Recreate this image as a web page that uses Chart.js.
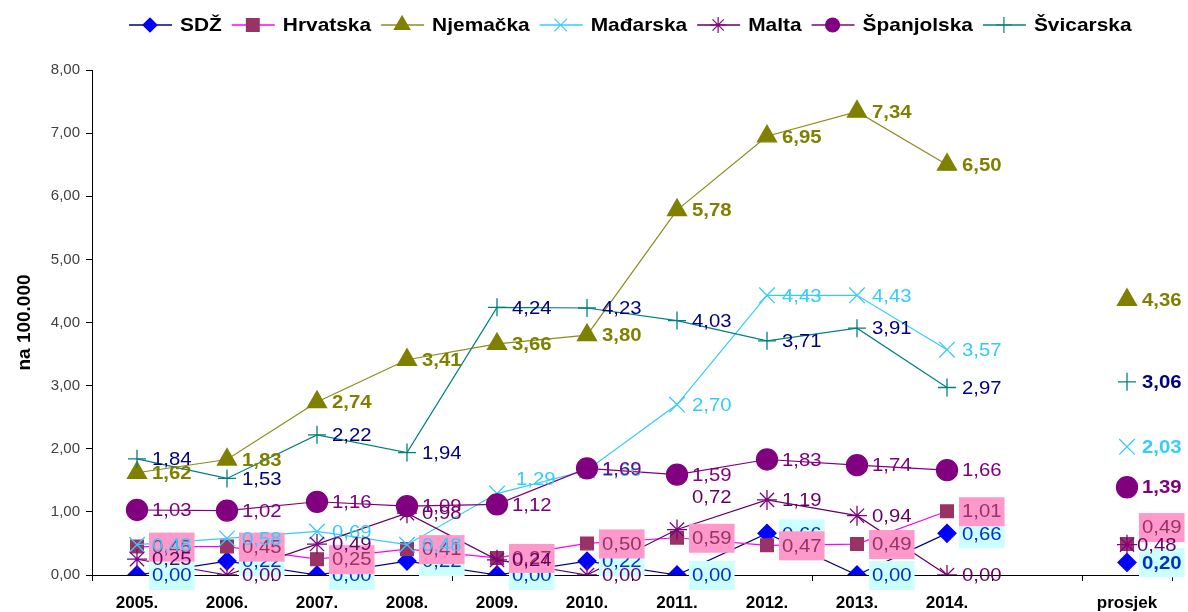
<!DOCTYPE html>
<html>
<head>
<meta charset="utf-8">
<script src="https://cdn.jsdelivr.net/npm/chart.js@4.4.1/dist/chart.umd.min.js"></script>
<style>
  html, body { margin: 0; padding: 0; background: #fff; }
  #wrap { width: 1188px; height: 612px; }
</style>
</head>
<body>
<div id="wrap"><canvas id="chart"></canvas></div>
<script>
// Categories: ten years, an empty slot, then the average
const years = ['2005.', '2006.', '2007.', '2008.', '2009.', '2010.', '2011.', '2012.', '2013.', '2014.', '', 'prosjek'];

// Rates per 100.000 (null keeps the average point detached from the line)
const sdz        = [0.00, 0.22, 0.00, 0.22, 0.00, 0.22, 0.00, 0.66, 0.00, 0.66, null, 0.20];
const hrvatska   = [0.45, 0.45, 0.25, 0.41, 0.27, 0.50, 0.59, 0.47, 0.49, 1.01, null, 0.49];
const njemacka   = [1.62, 1.83, 2.74, 3.41, 3.66, 3.80, 5.78, 6.95, 7.34, 6.50, null, 4.36];
const madarska   = [0.48, 0.58, 0.69, 0.48, 1.29, 1.66, 2.70, 4.43, 4.43, 3.57, null, 2.03];
const malta      = [0.25, 0.00, 0.49, 0.98, 0.24, 0.00, 0.72, 1.19, 0.94, 0.00, null, 0.48];
const spanjolska = [1.03, 1.02, 1.16, 1.09, 1.12, 1.69, 1.59, 1.83, 1.74, 1.66, null, 1.39];
const svicarska  = [1.84, 1.53, 2.22, 1.94, 4.24, 4.23, 4.03, 3.71, 3.91, 2.97, null, 3.06];

const yMin = 0, yMax = 8, yStep = 1;

const series = [
  { key: 'sdz', label: 'SDŽ', data: sdz, style: 'rectRot', radius: 9, line: '#000080', fill: '#0000ff', stroke: '#0000ff',
    text: '#0033cc', box: '#ccffff', bold: false, avgBold: true, legendR: 7 },
  { key: 'hrvatska', label: 'Hrvatska', data: hrvatska, style: 'rect', radius: 9, line: '#ff00ff', fill: '#993366', stroke: '#993366',
    text: '#993366', box: '#ff99cc', bold: false, avgBold: false, legendR: 9 },
  { key: 'njemacka', label: 'Njemačka', data: njemacka, style: 'triangle', radius: 11, line: '#8c8c1a', fill: '#808000', stroke: '#808000',
    text: '#808000', box: null, bold: true, avgBold: true, legendR: 9 },
  { key: 'madarska', label: 'Mađarska', data: madarska, style: 'crossRot', radius: 11, line: '#33ccff', fill: '#33ccff', stroke: '#33ccff',
    text: '#33ccff', box: null, bold: false, avgBold: true, legendR: 9 },
  { key: 'malta', label: 'Malta', data: malta, style: 'star', radius: 10, line: '#660066', fill: '#800080', stroke: '#800080',
    text: '#660066', box: null, bold: false, avgBold: false, legendR: 8 },
  { key: 'spanjolska', label: 'Španjolska', data: spanjolska, style: 'circle', radius: 10.5, line: '#800080', fill: '#800080', stroke: '#800080',
    text: '#800080', box: null, bold: false, avgBold: true, legendR: 7 },
  { key: 'svicarska', label: 'Švicarska', data: svicarska, style: 'cross', radius: 9, line: '#008080', fill: '#008080', stroke: '#008080',
    text: '#000080', box: null, bold: false, avgBold: true, legendR: 8 }
];

// a few labels sit away from the default spot right of the marker
const labelShift = {
  'malta:6': [0, -33],
  'madarska:4': [4, -15],
  'hrvatska:11': [0, -17],
  'malta:11': [-5, 0]
};

const fmt = v => v.toFixed(2).replace('.', ',');
const FONT = '"Liberation Sans", Arial, sans-serif';

// Legend row: line + marker + bold name (text slightly widened)
const legendRow = {
  id: 'legendRow',
  afterDraw(chart) {
    const ctx = chart.ctx;
    const y = 25;
    const sx = 1.1;
    let x = 129;
    ctx.save();
    ctx.font = 'bold 19px ' + FONT;
    ctx.textBaseline = 'middle';
    series.forEach(s => {
      ctx.strokeStyle = s.line;
      ctx.lineWidth = 1.5;
      ctx.beginPath();
      ctx.moveTo(x, y);
      ctx.lineTo(x + 43, y);
      ctx.stroke();
      ctx.fillStyle = s.fill;
      ctx.strokeStyle = s.stroke;
      ctx.lineWidth = 1.2;
      Chart.helpers.drawPoint(ctx, { pointStyle: s.style, radius: s.legendR, rotation: 0, borderWidth: 1.2 }, x + 21, y);
      x += 51;
      ctx.fillStyle = '#000';
      ctx.save();
      ctx.translate(x, y + 1);
      ctx.scale(sx, 1);
      ctx.fillText(s.label, 0, 0);
      ctx.restore();
      x += ctx.measureText(s.label).width * sx + 10;
    });
    ctx.restore();
  }
};

// Value labels to the right of every point
const valueLabels = {
  id: 'valueLabels',
  afterDatasetsDraw(chart) {
    const ctx = chart.ctx;
    const sx = 1.07;
    ctx.save();
    ctx.textBaseline = 'middle';
    series.forEach((s, di) => {
      const meta = chart.getDatasetMeta(di);
      meta.data.forEach((pt, i) => {
        const v = s.data[i];
        if (v === null) return;
        const txt = fmt(v);
        const isAvg = i === s.data.length - 1;
        const bold = isAvg ? s.avgBold : s.bold;
        ctx.font = (bold ? 'bold ' : '') + '19px ' + FONT;
        const w = ctx.measureText(txt).width * sx;
        const shift = labelShift[s.key + ':' + i] || [0, 0];
        const lx = pt.x + 15 + shift[0];
        const ly = pt.y + shift[1];
        if (s.box) {
          ctx.fillStyle = s.box;
          ctx.fillRect(lx - 3, ly - 14, w + 6, 29);
        }
        ctx.fillStyle = s.text;
        ctx.save();
        ctx.translate(lx, ly + 1);
        ctx.scale(sx, 1);
        ctx.fillText(txt, 0, 0);
        ctx.restore();
      });
    });
    ctx.restore();
  }
};

const ctx = document.getElementById('chart').getContext('2d');
new Chart(ctx, {
  type: 'line',
  data: {
    labels: years,
    datasets: series.map((s, i) => ({
      label: s.label,
      data: s.data,
      order: series.length - i,
      borderColor: s.line,
      borderWidth: 1.2,
      backgroundColor: s.fill,
      pointStyle: s.style,
      pointRadius: s.radius,
      pointBackgroundColor: s.fill,
      pointBorderColor: s.stroke,
      pointBorderWidth: 1.3,
      tension: 0,
      fill: false,
      spanGaps: false
    }))
  },
  options: {
    responsive: true,
    maintainAspectRatio: false,
    animation: false,
    layout: { padding: { top: 70, right: 16, bottom: 0, left: 0 } },
    plugins: {
      legend: { display: false },
      tooltip: { enabled: false }
    },
    scales: {
      x: {
        offset: true,
        afterFit: scale => { scale.height = 37; },
        grid: { offset: true, drawOnChartArea: false, tickLength: 6, color: '#000' },
        border: { color: '#000', width: 1 },
        ticks: {
          autoSkip: false,
          maxRotation: 0,
          padding: 12,
          color: '#000',
          font: { family: FONT, size: 17, weight: 'bold' }
        }
      },
      y: {
        min: yMin,
        max: yMax,
        afterFit: scale => { scale.width = 92; },
        grid: { drawOnChartArea: false, tickLength: 6, color: '#000' },
        border: { color: '#000', width: 1 },
        ticks: {
          stepSize: yStep,
          padding: 6,
          color: '#404040',
          font: { family: FONT, size: 15 },
          callback: v => fmt(v)
        },
        title: {
          display: true,
          text: 'na 100.000',
          color: '#000',
          padding: { top: 13, bottom: 0 },
          font: { family: FONT, size: 19, weight: 'bold' }
        }
      }
    }
  },
  plugins: [valueLabels, legendRow]
});
</script>
</body>
</html>
